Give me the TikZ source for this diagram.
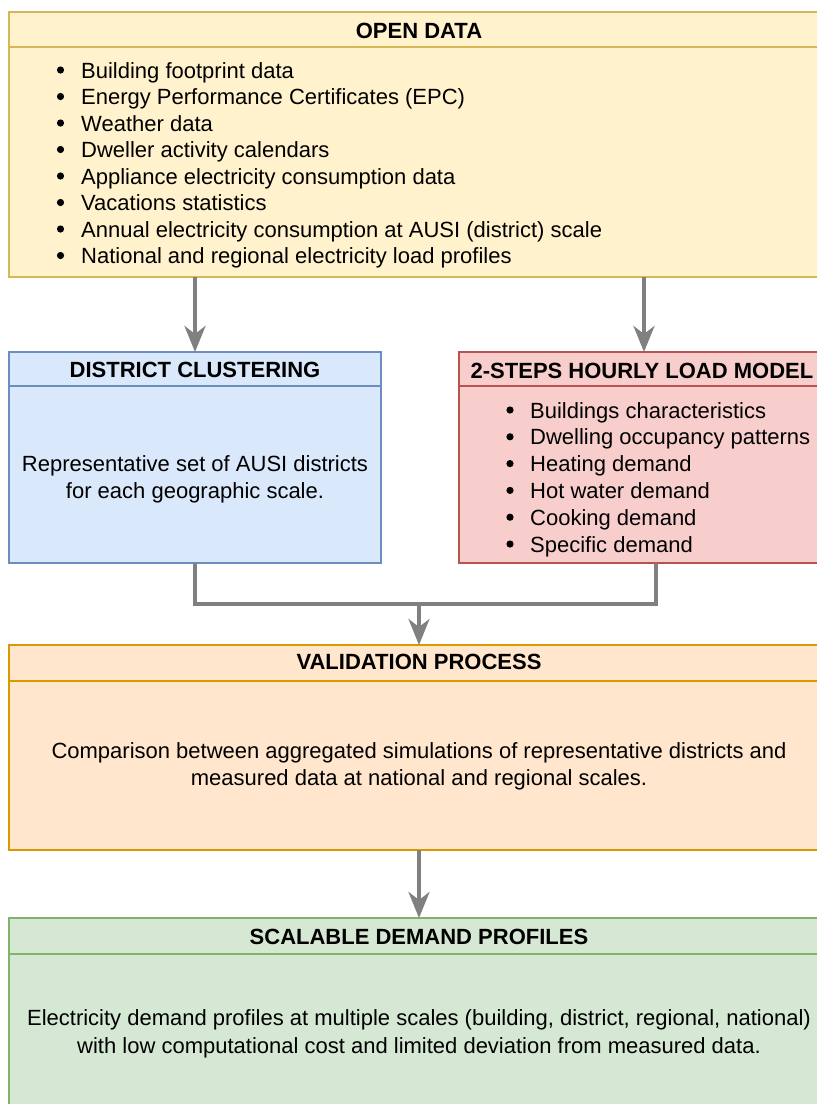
\documentclass[tikz,border=0pt]{standalone}
\usepackage{fontspec}
\setmainfont{Liberation Sans}
\usetikzlibrary{arrows.meta,calc}
\definecolor{ylwF}{HTML}{FFF2CC}\definecolor{ylwD}{HTML}{D6B656}
\definecolor{bluF}{HTML}{DAE8FC}\definecolor{bluD}{HTML}{6C8EBF}
\definecolor{redF}{HTML}{F8CECC}\definecolor{redD}{HTML}{B85450}
\definecolor{orgF}{HTML}{FFE6CC}\definecolor{orgD}{HTML}{D79B00}
\definecolor{grnF}{HTML}{D5E8D4}\definecolor{grnD}{HTML}{82B366}
\definecolor{conn}{HTML}{808080}
\tikzset{
  panel/.style 2 args={draw=#2, fill=#1, line width=1.6pt, rectangle, anchor=north west, inner sep=0pt, outer sep=0pt},
  headtxt/.style={anchor=base, font=\fontsize{22}{26}\selectfont\bfseries, inner sep=0pt},
  bodytxt/.style={anchor=base, font=\fontsize{22}{26}\selectfont, inner sep=0pt},
  itemtxt/.style={anchor=base west, font=\fontsize{22}{26}\selectfont, inner sep=0pt},
  bulletdot/.style={fill=black},
  link/.style={draw=conn, line width=4pt},
  arr/.style={link, -{Stealth[length=26pt,width=21pt,inset=8pt]}},
}
\begin{document}
\begin{tikzpicture}[x=1pt,y=-1pt]
\useasboundingbox (0,0) rectangle (817,1104);
\clip (0,0) rectangle (817,1104);
% OPEN DATA
\node[panel={ylwF}{ylwD}, minimum width=820, minimum height=35] (odh) at (9,12) {};
\node[panel={ylwF}{ylwD}, minimum width=820, minimum height=230] (odb) at (9,47) {};
\node[headtxt] (odt) at (419,38) {OPEN DATA};
\foreach \t [count=\i from 0] in {Building footprint data,Energy Performance Certificates (EPC),Weather data,Dweller activity calendars,Appliance electricity consumption data,Vacations statistics,Annual electricity consumption at AUSI (district) scale,National and regional electricity load profiles}{
  \fill[bulletdot] (60.5,70+26.5*\i) circle (3.6);
  \node[itemtxt] (odi\i) at (81,78+26.5*\i) {\t};
}
% DISTRICT CLUSTERING
\node[panel={bluF}{bluD}, minimum width=372, minimum height=34] (dch) at (9,352) {};
\node[panel={bluF}{bluD}, minimum width=372, minimum height=177] (dcb) at (9,386) {};
\node[headtxt] (dct) at (195,377) {DISTRICT CLUSTERING};
\node[bodytxt] (dc1) at (195,471) {Representative set of AUSI districts};
\node[bodytxt] (dc2) at (195,498) {for each geographic scale.};
% 2-STEPS
\node[panel={redF}{redD}, minimum width=370, minimum height=34] (tsh) at (459,352) {};
\node[panel={redF}{redD}, minimum width=370, minimum height=177] (tsb) at (459,386) {};
\node[headtxt] (tst) at (642,378) {2-STEPS HOURLY LOAD MODEL};
\foreach \t [count=\i from 0] in {Buildings characteristics,Dwelling occupancy patterns,Heating demand,Hot water demand,Cooking demand,Specific demand}{
  \fill[bulletdot] (510,410+26.8*\i) circle (3.6);
  \node[itemtxt] (tsi\i) at (530,418+26.8*\i) {\t};
}
% VALIDATION
\node[panel={orgF}{orgD}, minimum width=820, minimum height=36] (vph) at (9,645) {};
\node[panel={orgF}{orgD}, minimum width=820, minimum height=169] (vpb) at (9,681) {};
\node[headtxt] (vpt) at (419,669) {VALIDATION PROCESS};
\node[bodytxt] (vp1) at (419,758) {Comparison between aggregated simulations of representative districts and};
\node[bodytxt] (vp2) at (419,785) {measured data at national and regional scales.};
% SCALABLE
\node[panel={grnF}{grnD}, minimum width=820, minimum height=36] (sdh) at (9,918) {};
\node[panel={grnF}{grnD}, minimum width=820, minimum height=200] (sdb) at (9,954) {};
\node[headtxt] (sdt) at (419,944) {SCALABLE DEMAND PROFILES};
\node[bodytxt] (sd1) at (419,1025) {Electricity demand profiles at multiple scales (building, district, regional, national)};
\node[bodytxt] (sd2) at (419,1053) {with low computational cost and limited deviation from measured data.};
% connectors
\draw[arr] (odb.south -| dch.north) -- (dch.north);
\draw[arr] (odb.south -| tsh.north) -- (tsh.north);
\coordinate (m) at (419,604);
\draw[link] (dcb.south) |- (m);
\draw[link] ([xshift=12pt]tsb.south) |- (m);
\draw[arr] (m) -- (vph.north);
\draw[arr] (vpb.south) -- (sdh.north);
\end{tikzpicture}
\end{document}
